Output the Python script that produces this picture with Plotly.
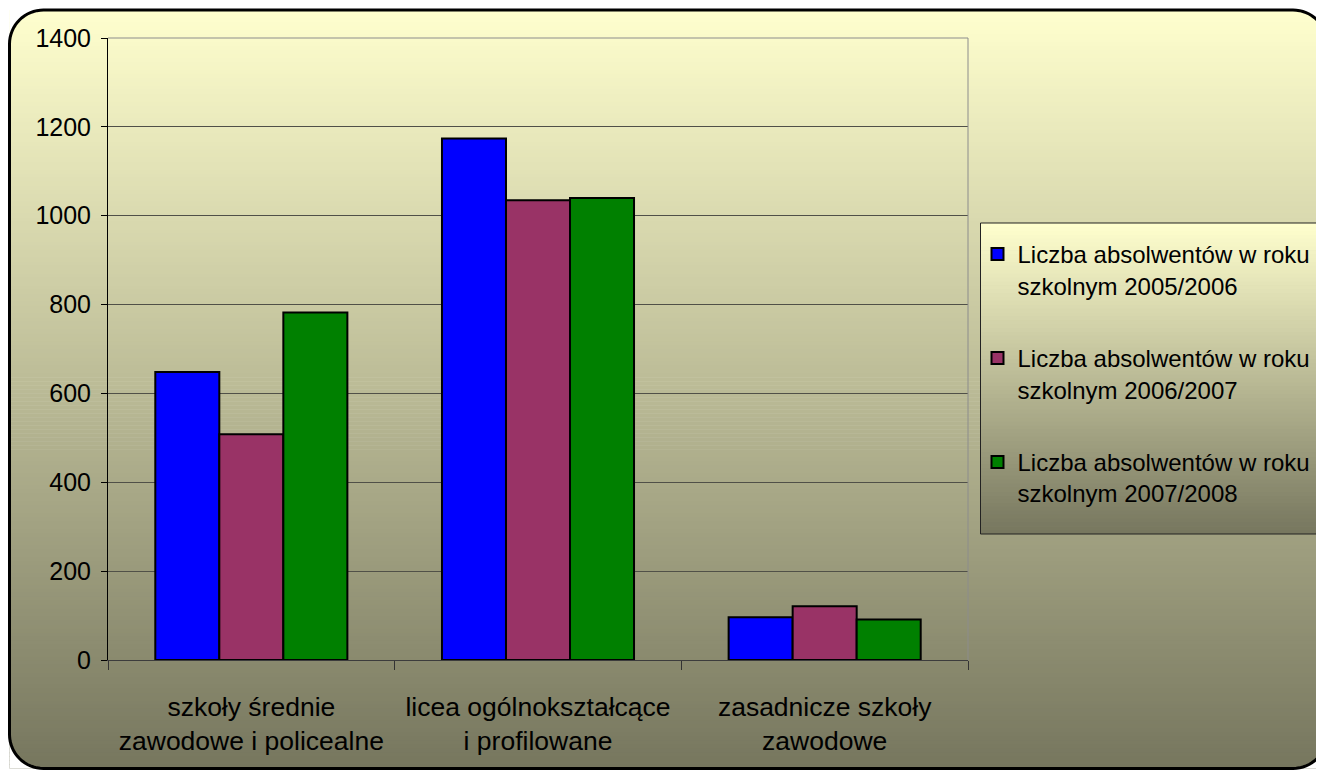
import math
import plotly.graph_objects as go

categories = ["szkoły średnie<br>zawodowe i policealne",
              "licea ogólnokształcące<br>i profilowane",
              "zasadnicze szkoły<br>zawodowe"]
series_names = ["Liczba absolwentów w roku<br>szkolnym 2005/2006",
                "Liczba absolwentów w roku<br>szkolnym 2006/2007",
                "Liczba absolwentów w roku<br>szkolnym 2007/2008"]
values_2005 = [648, 1174, 96]
values_2006 = [508, 1035, 121]
values_2007 = [782, 1040, 91]
series_colors = ["#0000FF", "#993366", "#008000"]
y_ticks = [0, 200, 400, 600, 800, 1000, 1200, 1400]

OFF = 8  # page body margin
W, H = 1324 - OFF, 771 - OFF
L, R, T, B = 108, 968, 38, 660  # plot area in screen pixels
PW, PH = R - L, B - T


def px(x, y):
    return (x - L) / PW, (B - y) / PH


def lerp(c0, c1, t):
    return tuple(round(a + (b - a) * t) for a, b in zip(c0, c1))


TOP_C = (255, 255, 206)
BOT_C = (118, 118, 94)

shapes = []


def gradient(x0, y0, x1, y1, c0, c1, n):
    h = (y1 - y0) / n
    for i in range(n):
        ya = y0 + i * h
        yb = ya + h + 0.6
        c = lerp(c0, c1, (i + 0.5) / n)
        ax, ay = px(x0, ya)
        bx, by = px(x1, min(yb, y1))
        shapes.append(dict(type="rect", xref="paper", yref="paper",
                           x0=ax, x1=bx, y0=by, y1=ay,
                           fillcolor="rgb(%d,%d,%d)" % c,
                           line=dict(width=0), layer="below"))


# chart background
BX0, BY0, BX1, BY1, RAD = 9.5, 10, 1327, 768.5, 34
gradient(BX0, BY0, BX1, BY1, TOP_C, BOT_C, 190)


def arc_pts(cx, cy, r, a0, a1, n=16):
    return [(cx + r * math.cos(math.radians(a0 + (a1 - a0) * k / n)),
             cy + r * math.sin(math.radians(a0 + (a1 - a0) * k / n))) for k in range(n + 1)]


def path_from(pts, close=True):
    s = ""
    for i, (x, y) in enumerate(pts):
        a, b = px(x, y)
        s += ("M" if i == 0 else "L") + "%.6f,%.6f" % (a, b)
    return s + ("Z" if close else "")


# white corner masks
corners = [
    ((BX0, BY0), (BX0 + RAD, BY0 + RAD), 180, 270),
    ((BX1, BY0), (BX1 - RAD, BY0 + RAD), 270, 360),
    ((BX1, BY1), (BX1 - RAD, BY1 - RAD), 0, 90),
    ((BX0, BY1), (BX0 + RAD, BY1 - RAD), 90, 180),
]
for (cxp, cyp), (ccx, ccy), a0, a1 in corners:
    pts = [(cxp, cyp)] + arc_pts(ccx, ccy, RAD, a0, a1)
    shapes.append(dict(type="path", xref="paper", yref="paper",
                       path=path_from(pts), fillcolor="white",
                       line=dict(width=0), layer="below"))

# border
border = []
border += arc_pts(BX0 + RAD, BY0 + RAD, RAD, 180, 270)
border += arc_pts(BX1 - RAD, BY0 + RAD, RAD, 270, 360)
border += arc_pts(BX1 - RAD, BY1 - RAD, RAD, 0, 90)
border += arc_pts(BX0 + RAD, BY1 - RAD, RAD, 90, 180)
shapes.append(dict(type="path", xref="paper", yref="paper",
                   path=path_from(border), line=dict(color="black", width=3),
                   layer="above"))

# legend box gradient
LX0, LY0, LX1, LY1 = 980.5, 223, 1330, 534
gradient(LX0, LY0, LX1, LY1, TOP_C, BOT_C, 80)
a, b = px(LX0, LY0)
c, d = px(LX1, LY1)
shapes.append(dict(type="rect", xref="paper", yref="paper", x0=a, x1=c, y0=d, y1=b,
                   line=dict(color="#222222", width=1), layer="below"))

# plot area top/right border
shapes.append(dict(type="path", xref="paper", yref="paper",
                   path="M0,1L1,1L1,0", line=dict(color="#8c8c8c", width=1),
                   layer="above"))

fig = go.Figure()
for name, vals, col, g in zip(series_names, [values_2005, values_2006, values_2007],
                              series_colors, ["a", "b", "c"]):
    fig.add_trace(go.Bar(x=categories, y=vals, name=name, legendgroup=g,
                         marker=dict(color=col, line=dict(color="black", width=2))))

FONT = "Liberation Sans, Arial, sans-serif"
lx, ly = px(LX0 - 3, LY0 + 9)
fig.update_layout(
    width=W, height=H,
    margin=dict(l=L - OFF, r=W - (R - OFF), t=T - OFF, b=H - (B - OFF), pad=0,
                autoexpand=False),
    paper_bgcolor="white", plot_bgcolor="rgba(0,0,0,0)",
    barmode="group", bargap=0.33, bargroupgap=0,
    font=dict(family=FONT, size=24, color="black"),
    shapes=shapes,
    showlegend=True,
    legend=dict(x=lx, y=ly, xanchor="left", yanchor="top",
                bgcolor="rgba(0,0,0,0)", borderwidth=0,
                font=dict(family=FONT, size=24, color="black"),
                valign="top", tracegroupgap=38.5, traceorder="grouped"),
    xaxis=dict(type="category", tickson="boundaries", ticks="outside", ticklen=9,
               tickcolor="#333333", showline=True, linecolor="#3c3c3c", linewidth=1,
               showgrid=False, tickfont=dict(family=FONT, size=26.5, color="black"),
               ticklabelstandoff=23),
    yaxis=dict(range=[0, 1400], tickvals=y_ticks, ticks="outside", ticklen=6,
               tickcolor="black", showline=True, linecolor="black", linewidth=1,
               showgrid=True, gridcolor="#505048", gridwidth=1, zeroline=False,
               tickfont=dict(family=FONT, size=25, color="black"),
               ticklabelstandoff=5),
)

fig.write_html("out.html")
